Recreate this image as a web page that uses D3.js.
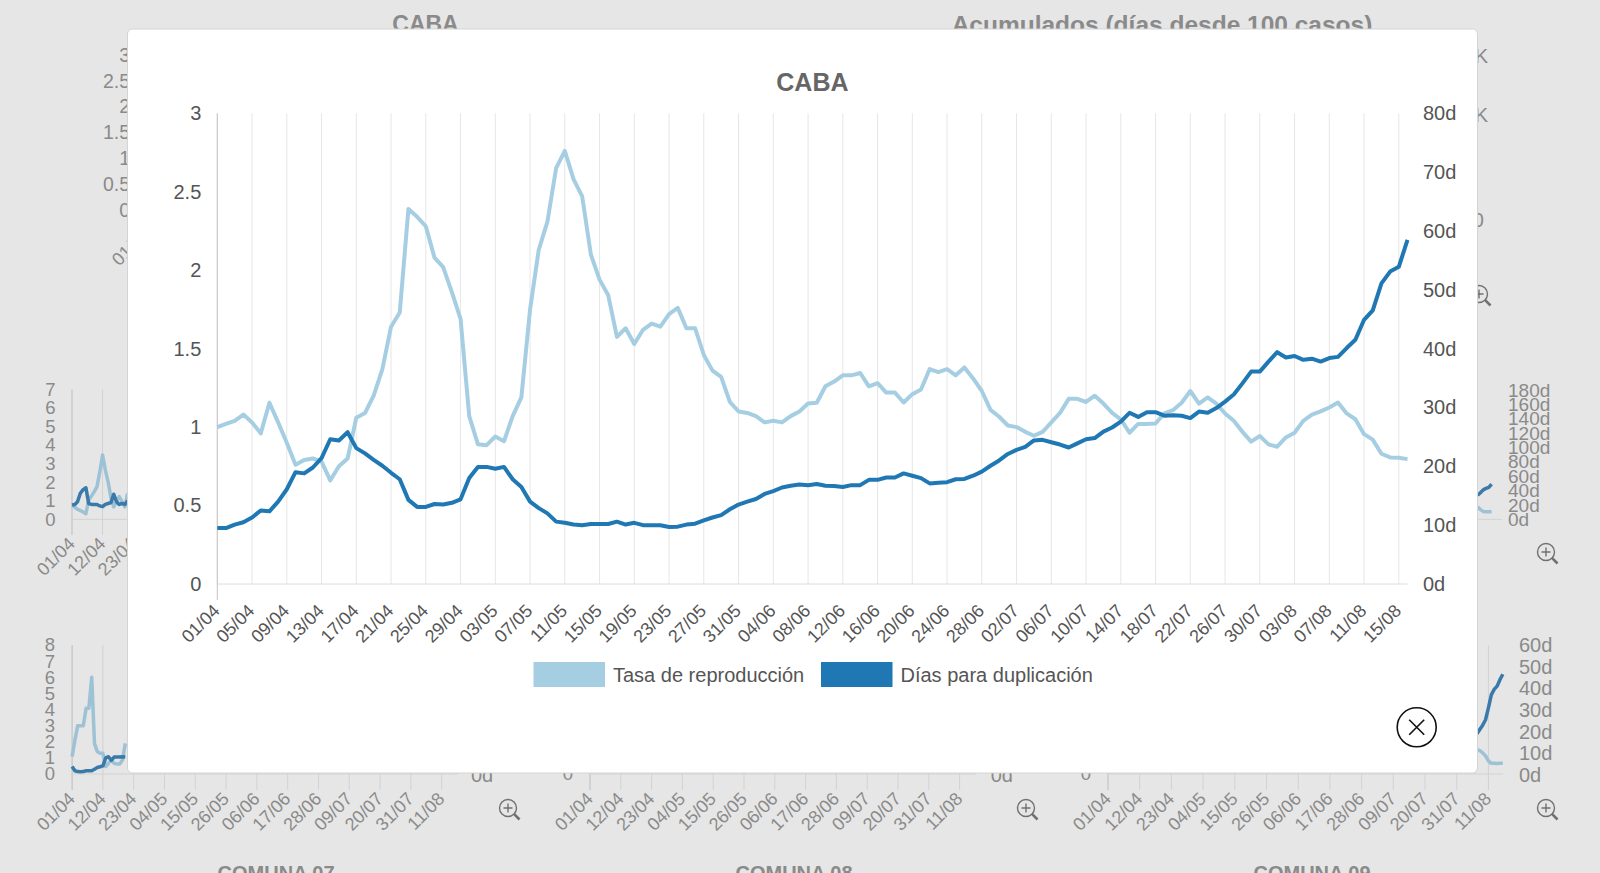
<!DOCTYPE html>
<html lang="es">
<head>
<meta charset="utf-8">
<script src="https://d3js.org/d3.v7.min.js"></script>
<style>
  body { margin: 0; background: #e6e6e6; }
  svg { display: block; }
</style>
</head>
<body>
<script>
// ---------- datos del gráfico principal (CABA) ----------
const series = ["Tasa de reproducción", "Días para duplicación"];
const colores = ["#a6cee3", "#1f78b4"];

// un valor por día, del 01/04 al 16/08
const tasaReproduccion = [
  1.00, 1.02, 1.04, 1.08, 1.03, 0.96, 1.155, 1.03, 0.90, 0.76,
  0.79, 0.80, 0.78, 0.66, 0.75, 0.80, 1.06, 1.09, 1.20, 1.37,
  1.64, 1.73, 2.39, 2.34, 2.28, 2.08, 2.02, 1.86, 1.69, 1.07,
  0.89, 0.885, 0.94, 0.91, 1.07, 1.19, 1.75, 2.13, 2.31, 2.65,
  2.76, 2.58, 2.47, 2.10, 1.94, 1.84, 1.575, 1.63, 1.53, 1.62,
  1.66, 1.64, 1.72, 1.76, 1.63, 1.63, 1.46, 1.36, 1.32, 1.16,
  1.10, 1.09, 1.07, 1.03, 1.04, 1.03, 1.07, 1.10, 1.15, 1.155,
  1.26, 1.29, 1.33, 1.33, 1.345, 1.26, 1.28, 1.22, 1.22, 1.157,
  1.21, 1.24, 1.37, 1.35, 1.37, 1.33, 1.38, 1.31, 1.23, 1.11,
  1.066, 1.01, 1.00, 0.97, 0.945, 0.97, 1.03, 1.09, 1.18, 1.18,
  1.16, 1.20, 1.15, 1.09, 1.05, 0.964, 1.02, 1.02, 1.023, 1.087,
  1.108, 1.155, 1.23, 1.15, 1.19, 1.15, 1.087, 1.04, 0.97, 0.907,
  0.943, 0.89, 0.875, 0.934, 0.964, 1.04, 1.08, 1.10, 1.125, 1.157,
  1.087, 1.05, 0.955, 0.92, 0.83, 0.807, 0.805, 0.796
];
const diasDuplicacion = [
  9.5, 9.5, 10.1, 10.5, 11.3, 12.5, 12.35, 14.0, 16.1, 19.0,
  18.8, 19.8, 21.4, 24.6, 24.4, 25.8, 23.1, 22.2, 21.1, 20.1,
  18.9, 17.8, 14.3, 13.1, 13.1, 13.6, 13.5, 13.8, 14.4, 18.0,
  19.9, 19.9, 19.6, 19.9, 17.8, 16.5, 14.0, 12.9, 12.0, 10.6,
  10.4, 10.1, 10.0, 10.2, 10.2, 10.2, 10.6, 10.1, 10.4, 10.0,
  9.97, 9.97, 9.7, 9.75, 10.1, 10.25, 10.8, 11.3, 11.7, 12.7,
  13.5, 14.0, 14.45, 15.3, 15.8, 16.4, 16.7, 16.9, 16.8, 17.0,
  16.7, 16.66, 16.5, 16.8, 16.8, 17.7, 17.7, 18.1, 18.1, 18.8,
  18.4, 18.0, 17.1, 17.2, 17.3, 17.8, 17.85, 18.4, 19.1, 20.1,
  21.0, 22.1, 22.8, 23.3, 24.4, 24.5, 24.1, 23.7, 23.2, 23.9,
  24.6, 24.8, 25.9, 26.6, 27.6, 29.1, 28.4, 29.2, 29.2, 28.6,
  28.7, 28.6, 28.2, 29.3, 29.1, 29.9, 31.0, 32.2, 34.1, 36.1,
  36.1, 37.8, 39.4, 38.5, 38.75, 38.1, 38.3, 37.8, 38.4, 38.6,
  40.1, 41.5, 44.9, 46.5, 51.1, 53.1, 53.9, 58.5
];
const etiquetasX = [
  "01/04", "05/04", "09/04", "13/04", "17/04", "21/04", "25/04", "29/04",
  "03/05", "07/05", "11/05", "15/05", "19/05", "23/05", "27/05", "31/05",
  "04/06", "08/06", "12/06", "16/06", "20/06", "24/06", "28/06", "02/07",
  "06/07", "10/07", "14/07", "18/07", "22/07", "26/07", "30/07", "03/08",
  "07/08", "11/08", "15/08"
];
const ticksIzq = [0, 0.5, 1, 1.5, 2, 2.5, 3];
const ticksDer = [0, 10, 20, 30, 40, 50, 60, 70, 80];

// ---------- datos del tablero de fondo ----------
const fondoFechas = ["01/04", "12/04", "23/04", "04/05", "15/05", "26/05", "06/06",
                     "17/06", "28/06", "09/07", "20/07", "31/07", "11/08"];
const fondoTicks3 = [0, 0.5, 1, 1.5, 2, 2.5, 3];
const fondoTicks7 = [0, 1, 2, 3, 4, 5, 6, 7];
const fondoTicks8 = [0, 1, 2, 3, 4, 5, 6, 7, 8];
const fondoDias180 = [0, 20, 40, 60, 80, 100, 120, 140, 160, 180];
const fondoDias60 = [0, 10, 20, 30, 40, 50, 60];
// fila media, izquierda (primeros días)
const medioIzqTasa = [0.77, 0.65, 0.54, 0.47, 0.39, 0.3, 1.04, 1.25, 1.49, 1.76, 2.56,
                      3.46, 2.65, 2.0, 1.18, 0.67, 0.95, 1.22, 0.95, 0.67, 1.4];
const medioIzqDias = [0.77, 0.8, 0.95, 1.4, 1.6, 1.7, 0.85, 0.8, 0.8, 0.8, 0.72,
                      0.68, 0.8, 0.85, 0.9, 1.35, 0.95, 0.8, 0.85, 0.8, 1.0];
// fila media, derecha (últimos días, desde el día 132)
const medioDerTasa = [17.5, 13.5, 11, 10.6, 10.6, 10.6];
const medioDerDias = [33.5, 37, 41, 43, 44.5, 49];
// fila baja, izquierda (primeros días)
const bajoIzqTasa = [1.08, 2.1, 3.0, 3.0, 3.0, 4.08, 4.08, 6.0, 1.9, 1.39,
                     1.28, 1.28, 0.46, 0.66, 0.87, 0.66, 0.62, 0.62, 0.87, 1.9];
const bajoIzqDias = [0.46, 0.2, 0.15, 0.14, 0.15, 0.2, 0.2, 0.2, 0.3, 0.4,
                     0.45, 0.5, 1.0, 1.07, 0.85, 1.05, 1.05, 1.05, 1.07, 1.05];
// fila baja, derecha (últimos días, desde el día 128)
const bajoDerTasa = [11.8, 11.3, 10.2, 8.8, 6.5, 5.4, 5.4, 5.3, 5.4, 5.4];
const bajoDerDias = [19, 21, 23, 25.5, 31, 37, 39.5, 41, 44, 46.5];
const comunas = ["COMUNA 07", "COMUNA 08", "COMUNA 09"];

// ---------- lienzo ----------
const fuente = '"Liberation Sans", Arial, Helvetica, sans-serif';
const gris = "#8a8a8a";
const bgLight = "#9dc2d6", bgDark = "#3a7aab";

const svg = d3.select("body").append("svg")
  .attr("width", 1600).attr("height", 873)
  .style("font-family", fuente);

const fondo = svg.append("g");

function lupa(g, cx, cy) {
  const l = g.append("g").attr("transform", `translate(${cx},${cy})`)
    .attr("stroke", "#707070").attr("fill", "none").attr("stroke-width", 1.4);
  l.append("circle").attr("r", 8.5);
  l.append("path").attr("d", "M-4.5,0H4.5M0,-4.5V4.5");
  l.append("path").attr("d", "M6.2,6.2L11.5,11.5").attr("stroke-width", 2.6);
}

function etiquetasY(g, valores, escala, x, anchor, fmt, size) {
  g.append("g").selectAll("text").data(valores).join("text")
    .attr("x", x).attr("y", d => escala(d)).attr("dy", "0.35em")
    .attr("text-anchor", anchor).attr("font-size", size).attr("fill", gris)
    .text(fmt);
}

function etiquetasFecha(g, etiquetas, xPos, yP) {
  g.append("g").selectAll("text").data(etiquetas).join("text")
    .attr("transform", (d, i) => `translate(${xPos(i) + 4},${yP}) rotate(-45)`)
    .attr("text-anchor", "end").attr("font-size", 18).attr("fill", gris)
    .text(d => d);
}

function lineaFondo(g, valores, inicio, xs, ys, color) {
  g.append("path").datum(valores)
    .attr("fill", "none").attr("stroke", color).attr("stroke-width", 3.5)
    .attr("stroke-linejoin", "round")
    .attr("d", d3.line().x((d, i) => xs(inicio + i)).y(d => ys(d)));
}

// títulos de la fila superior
fondo.append("text").attr("x", 425.5).attr("y", 31.5).attr("text-anchor", "middle")
  .attr("font-weight", "bold").attr("font-size", 23).attr("fill", gris).text("CABA");
fondo.append("text").attr("x", 1162).attr("y", 32.5).attr("text-anchor", "middle")
  .attr("font-weight", "bold").attr("font-size", 24.5).attr("fill", gris)
  .text("Acumulados (días desde 100 casos)");

// fila superior, izquierda
const ySup = d3.scaleLinear().domain([0, 3]).range([210, 55]);
etiquetasY(fondo, fondoTicks3, ySup, 130, "end", d => d, 19.5);
etiquetasFecha(fondo, ["01/04"], () => 147, 235);

// fila superior, derecha (fragmentos)
fondo.append("text").attr("x", 1488).attr("y", 56).attr("dy", "0.35em").attr("text-anchor", "end")
  .attr("font-size", 20).attr("fill", gris).text("100K");
fondo.append("text").attr("x", 1488).attr("y", 114.5).attr("dy", "0.35em").attr("text-anchor", "end")
  .attr("font-size", 20).attr("fill", gris).text("10K");
fondo.append("text").attr("x", 1484).attr("y", 220).attr("dy", "0.35em").attr("text-anchor", "end")
  .attr("font-size", 20).attr("fill", gris).text("10");
lupa(fondo, 1479, 294);

// fila media, izquierda
{
  const g = fondo.append("g");
  const xs = d3.scaleLinear().domain([0, 1]).range([72, 74.78]);
  const ys = d3.scaleLinear().domain([0, 7]).range([519.3, 389.3]);
  etiquetasY(g, fondoTicks7, ys, 55.5, "end", d => d, 18.5);
  fondoFechas.forEach((f, i) => {
    g.append("line").attr("x1", xs(i * 11)).attr("x2", xs(i * 11))
      .attr("y1", 389.3).attr("y2", 535)
      .attr("stroke", i === 0 ? "#bdbdbd" : "#d2d2d2");
  });
  g.append("line").attr("x1", 72).attr("x2", 460).attr("y1", 519.3).attr("y2", 519.3).attr("stroke", "#d2d2d2");
  etiquetasFecha(g, fondoFechas, i => xs(i * 11), 545);
  lineaFondo(g, medioIzqTasa, 0, xs, ys, bgLight);
  lineaFondo(g, medioIzqDias, 0, xs, ys, bgDark);
}

// fila media, derecha
{
  const g = fondo.append("g");
  const xs = d3.scaleLinear().domain([0, 1]).range([1108, 1110.8]);
  const ys = d3.scaleLinear().domain([0, 180]).range([519.3, 390]);
  g.append("line").attr("x1", 1108).attr("x2", 1502).attr("y1", 519.3).attr("y2", 519.3).attr("stroke", "#d2d2d2");
  etiquetasY(g, fondoDias180, ys, 1508, "start", d => d + "d", 19);
  lineaFondo(g, medioDerTasa, 132, xs, ys, bgLight);
  lineaFondo(g, medioDerDias, 132, xs, ys, bgDark);
  lupa(g, 1546, 552);
}

// fila baja: tres gráficos
[72.1, 590, 1108].forEach((x0, k) => {
  const g = fondo.append("g");
  const paso = k === 2 ? 2.882 : 2.8;
  const xs = d3.scaleLinear().domain([0, 1]).range([x0, x0 + paso]);
  const ys = d3.scaleLinear().domain([0, 8]).range([774, 645]);
  const yd = d3.scaleLinear().domain([0, 60]).range([775, 645]);
  fondoFechas.forEach((f, i) => {
    g.append("line").attr("x1", xs(i * 11)).attr("x2", xs(i * 11))
      .attr("y1", 645).attr("y2", 790)
      .attr("stroke", i === 0 ? "#bdbdbd" : "#d2d2d2");
  });
  g.append("line").attr("x1", x0).attr("x2", x0 + (k === 2 ? 395 : 386))
    .attr("y1", 774).attr("y2", 774).attr("stroke", "#d2d2d2");
  etiquetasY(g, fondoTicks8, ys, x0 - 17, "end", d => d, 18.5);
  etiquetasY(g, fondoDias60, yd, [471, 990.7, 1519][k], "start", d => d + "d", 20);
  etiquetasFecha(g, fondoFechas, i => xs(i * 11), 800);
  if (k === 0) {
    lineaFondo(g, bajoIzqTasa, 0, xs, ys, bgLight);
    lineaFondo(g, bajoIzqDias, 0, xs, ys, bgDark);
  }
  if (k === 2) {
    lineaFondo(g, bajoDerTasa, 128, xs, yd, bgLight);
    lineaFondo(g, bajoDerDias, 128, xs, yd, bgDark);
  }
  lupa(g, [508, 1026, 1546][k], 808);
  g.append("text").attr("x", x0 + 204).attr("y", 880).attr("text-anchor", "middle")
    .attr("font-weight", "bold").attr("font-size", 20).attr("fill", gris).text(comunas[k]);
});

// ---------- modal ----------
svg.append("rect")
  .attr("x", 127.5).attr("y", 29).attr("width", 1350).attr("height", 744)
  .attr("rx", 5).attr("fill", "#fff").attr("stroke", "#d4d4d4");

const chart = svg.append("g");
const margen = { left: 217.3, right: 1407.5, top: 113.3, bottom: 584 };

const fechas = d3.timeDay.range(new Date(2020, 3, 1), new Date(2020, 7, 17));
const parse = d3.timeParse("%d/%m/%Y");
const fechasTicks = etiquetasX.map(s => parse(s + "/2020"));

const x = d3.scaleTime().domain([fechas[0], fechas[fechas.length - 1]]).range([margen.left, margen.right]);
const yL = d3.scaleLinear().domain([0, 3]).range([margen.bottom, margen.top]);
const yR = d3.scaleLinear().domain([0, 80]).range([margen.bottom, margen.top]);

chart.append("text")
  .attr("x", (margen.left + margen.right) / 2).attr("y", 82.5).attr("dy", "0.35em")
  .attr("text-anchor", "middle").attr("font-weight", "bold").attr("font-size", 25)
  .attr("fill", "#666").text("CABA");

// líneas de grilla verticales
chart.append("g").selectAll("line").data(fechasTicks).join("line")
  .attr("x1", d => x(d)).attr("x2", d => x(d))
  .attr("y1", margen.top).attr("y2", margen.bottom)
  .attr("stroke", "#e6e6e6");

// ejes
chart.append("line").attr("x1", margen.left).attr("x2", margen.right)
  .attr("y1", margen.bottom).attr("y2", margen.bottom).attr("stroke", "#dcdcdc");
chart.append("line").attr("x1", margen.left).attr("x2", margen.left)
  .attr("y1", margen.top).attr("y2", 600).attr("stroke", "#c4c4c4");

const gxL = chart.append("g").attr("transform", `translate(${margen.left},0)`)
  .call(d3.axisLeft(yL).tickValues(ticksIzq).tickSize(0).tickPadding(16).tickFormat(d => d));
const gxR = chart.append("g").attr("transform", `translate(${margen.right + 0.5},0)`)
  .call(d3.axisRight(yR).tickValues(ticksDer).tickSize(0).tickPadding(15).tickFormat(d => d + "d"));
const gxB = chart.append("g").attr("transform", `translate(0,${margen.bottom})`)
  .call(d3.axisBottom(x).tickValues(fechasTicks).tickSize(0).tickFormat(d3.timeFormat("%d/%m")));

[gxL, gxR, gxB].forEach(g => {
  g.attr("font-family", fuente).attr("font-size", 20);
  g.select(".domain").remove();
  g.selectAll("text").attr("fill", "#555");
});
gxB.attr("font-size", 18);
gxB.selectAll("text")
  .attr("y", 0).attr("dy", 0)
  .attr("transform", "translate(3,28) rotate(-45)")
  .attr("text-anchor", "end");

// series
const linea = escala => d3.line().x((d, i) => x(fechas[i])).y(d => escala(d));
chart.append("path").datum(tasaReproduccion)
  .attr("fill", "none").attr("stroke", colores[0]).attr("stroke-width", 4)
  .attr("stroke-linejoin", "round").attr("d", linea(yL));
chart.append("path").datum(diasDuplicacion)
  .attr("fill", "none").attr("stroke", colores[1]).attr("stroke-width", 4)
  .attr("stroke-linejoin", "round").attr("d", linea(yR));

// leyenda
const leyenda = chart.append("g").selectAll("g").data(series).join("g")
  .attr("transform", (d, i) => `translate(${[533.5, 821][i]},662)`);
leyenda.append("rect").attr("width", 71.5).attr("height", 25)
  .attr("fill", (d, i) => colores[i]);
leyenda.append("text").attr("x", 79.5).attr("y", 12.5).attr("dy", "0.35em")
  .attr("font-size", 20).attr("fill", "#555").text(d => d);

// botón de cierre
const cerrar = chart.append("g").attr("transform", "translate(1416.7,727.3)")
  .attr("stroke", "#111").attr("stroke-width", 1.6);
cerrar.append("circle").attr("r", 19.5).attr("fill", "#fff");
cerrar.append("path").attr("d", "M-7.5,-7.5L7.5,7.5M7.5,-7.5L-7.5,7.5");
</script>
</body>
</html>
